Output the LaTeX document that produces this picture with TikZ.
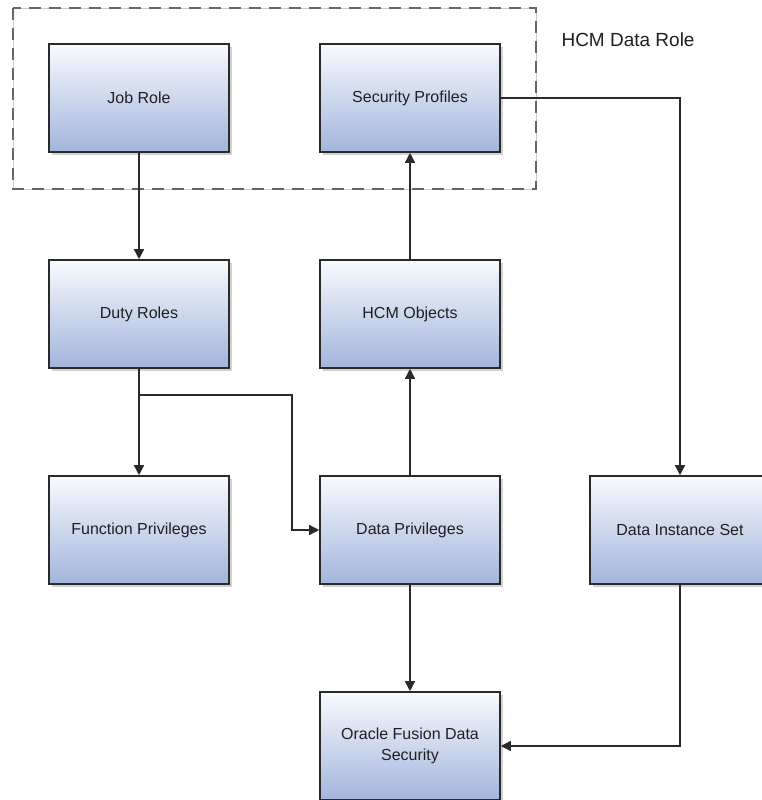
\documentclass[tikz,border=0pt]{standalone}
\usepackage{fontspec}
\setmainfont{Liberation Sans}
\usetikzlibrary{arrows.meta,shadows}
\definecolor{boxtop}{HTML}{F8FAFE}
\definecolor{boxbot}{HTML}{A2B5DB}
\definecolor{linec}{HTML}{2A2A2A}
\begin{document}
\begin{tikzpicture}[x=1pt,y=-1pt,
  rolebox/.style={draw=linec, line width=1.6pt, minimum width=180pt, minimum height=108pt,
    top color=boxtop, bottom color=boxbot, inner sep=0pt, font=\fontsize{16}{20.5}\selectfont,
    align=center, text=black!88,
    drop shadow={shadow xshift=3pt, shadow yshift=-3pt, fill=black!18, opacity=1}},
  conn/.style={draw=linec, line width=1.4pt, -{Triangle[length=10pt,width=10pt]}},
  plain/.style={draw=linec, line width=1.4pt}]
\useasboundingbox (0,0) rectangle (762,800);
% dashed group
\draw[black!20, line width=0.6pt] (13,8) rectangle (536,189);
\draw[black!60, line width=2pt, dash pattern=on 12pt off 8pt] (13,8) rectangle (536,189);
\node[anchor=west, font=\fontsize{19}{22}\selectfont, text=black!88] (lbl) at (558,40) {HCM Data Role};
% boxes
\node[rolebox] (job) at (139,98) {Job Role};
\node[rolebox] (sec) at (410,98) {Security Profiles};
\node[rolebox] (duty) at (139,314) {Duty Roles};
\node[rolebox] (hcm) at (410,314) {HCM Objects};
\node[rolebox] (func) at (139,530) {Function Privileges};
\node[rolebox] (dpriv) at (410,530) {Data Privileges};
\node[rolebox] (dis) at (680,530) {Data Instance Set};
\node[rolebox] (ofs) at (410,746) {Oracle Fusion Data\\Security};
% connectors
\coordinate (br) at (139,395);
\draw[conn] (job.south) -- (duty.north);
\draw[conn] (duty.south) -- (func.north);
\draw[conn] (br) -| (292,530) -- (dpriv.west);
\draw[conn] (dpriv.north) -- (hcm.south);
\draw[conn] (hcm.north) -- (sec.south);
\draw[conn] (sec.east) -| (dis.north);
\draw[conn] (dis.south) |- (ofs.east);
\draw[conn] (dpriv.south) -- (ofs.north);
\end{tikzpicture}
\end{document}
